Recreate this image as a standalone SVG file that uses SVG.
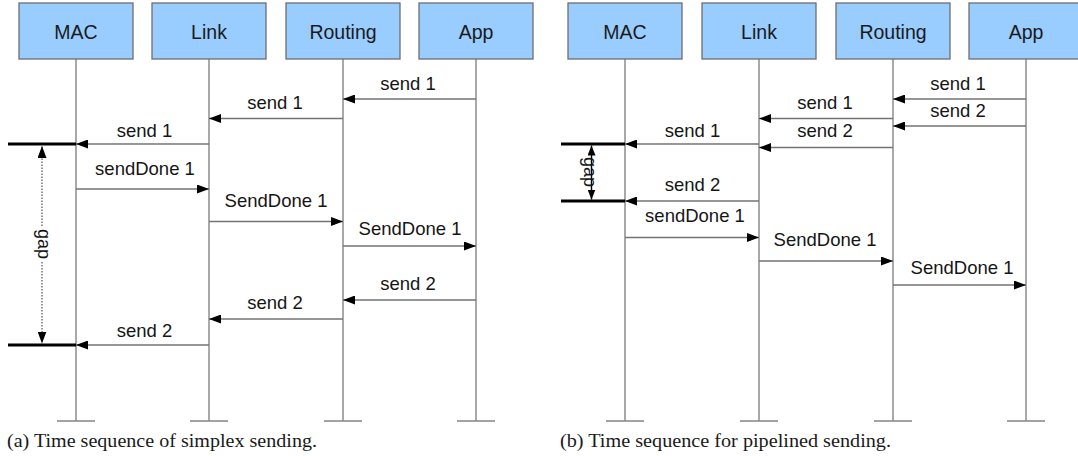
<svg xmlns="http://www.w3.org/2000/svg" width="1078" height="456" viewBox="0 0 1078 456">
  <style>
    .box { fill: #99ccff; stroke: #6e6e6e; stroke-width: 1.3; }
    .boxlabel { font-family: "Liberation Sans", Arial, sans-serif; font-size: 19.5px; fill: #1a1a1a; text-anchor: middle; }
    .life { stroke: #858585; stroke-width: 1.4; fill: none; }
    .msg { stroke: #737373; stroke-width: 1.4; fill: none; marker-end: url(#head); }
    .lbl { font-family: "Liberation Sans", Arial, sans-serif; font-size: 18.5px; fill: #151515; text-anchor: middle; }
    .bar { stroke: #000; stroke-width: 3; fill: none; }
    .gapdot { stroke: #555; stroke-width: 1.2; stroke-dasharray: 1.5 1.5; fill: none; marker-end: url(#head); }
    .gapsolid { stroke: #000; stroke-width: 1.4; fill: none; marker-end: url(#headsm); }
    .gaplbl { font-family: "Liberation Sans", Arial, sans-serif; font-size: 18px; fill: #151515; text-anchor: middle; }
    .caption { font-family: "Liberation Serif", "Times New Roman", serif; font-size: 19.5px; fill: #1a1a1a; }
  </style>
  <defs>
    <marker id="head" viewBox="0 0 12 9" refX="12" refY="4.5" markerWidth="12" markerHeight="9" markerUnits="userSpaceOnUse" orient="auto">
      <path d="M0,0 L12,4.5 L0,9 z" fill="#000"/>
    </marker>
    <marker id="headsm" viewBox="0 0 10 8" refX="10" refY="4" markerWidth="10" markerHeight="8" markerUnits="userSpaceOnUse" orient="auto">
      <path d="M0,0 L10,4 L0,8 z" fill="#000"/>
    </marker>
  </defs>
  <rect width="1078" height="456" fill="#fff"/>

  <!-- (a) simplex sending -->
  <g id="a-lifelines">
    <path class="life" d="M76,59 V421 M57,421 H95"/>
    <path class="life" d="M209,59 V421 M190,421 H228"/>
    <path class="life" d="M343,59 V421 M324,421 H362"/>
    <path class="life" d="M476,59 V421 M457,421 H495"/>
  </g>
  <g id="a-mac"><rect class="box" x="19" y="3" width="114" height="56"/><text class="boxlabel" x="76" y="38.5">MAC</text></g>
  <g id="a-link"><rect class="box" x="152" y="3" width="114" height="56"/><text class="boxlabel" x="209" y="38.5">Link</text></g>
  <g id="a-routing"><rect class="box" x="286" y="3" width="114" height="56"/><text class="boxlabel" x="343" y="38.5">Routing</text></g>
  <g id="a-app"><rect class="box" x="419" y="3" width="114" height="56"/><text class="boxlabel" x="476" y="38.5">App</text></g>

  <g id="a-connectors">
    <path class="msg" d="M476,99 H343"/><text class="lbl" x="408" y="90">send 1</text>
    <path class="msg" d="M343,118.5 H209"/><text class="lbl" x="275" y="109">send 1</text>
    <path class="msg" d="M209,144 H76"/><text class="lbl" x="144.5" y="137">send 1</text>
    <path class="msg" d="M76,189 H209"/><text class="lbl" x="145" y="175">sendDone 1</text>
    <path class="msg" d="M209,221.5 H343"/><text class="lbl" x="276" y="207">SendDone 1</text>
    <path class="msg" d="M343,246 H476"/><text class="lbl" x="410" y="235">SendDone 1</text>
    <path class="msg" d="M476,300 H343"/><text class="lbl" x="408" y="290">send 2</text>
    <path class="msg" d="M343,319 H209"/><text class="lbl" x="275" y="309">send 2</text>
    <path class="msg" d="M209,345 H76"/><text class="lbl" x="144.5" y="337">send 2</text>
  </g>

  <g id="a-gap">
    <path class="bar" d="M8,144 H76 M8,345 H76"/>
    <path class="gapdot" d="M42,226 V146"/>
    <path class="gapdot" d="M42,262 V343.5"/>
    <text class="gaplbl" transform="translate(43,244) rotate(90)" y="5">gap</text>
  </g>

  <text class="caption" x="7" y="447" textLength="310" lengthAdjust="spacingAndGlyphs">(a) Time sequence of simplex sending.</text>

  <!-- (b) pipelined sending -->
  <g id="b-lifelines">
    <path class="life" d="M625,59 V421 M606,421 H644"/>
    <path class="life" d="M759,59 V421 M740,421 H778"/>
    <path class="life" d="M893,59 V421 M874,421 H912"/>
    <path class="life" d="M1026,59 V421 M1007,421 H1045"/>
  </g>
  <g id="b-mac"><rect class="box" x="568" y="3" width="114" height="56"/><text class="boxlabel" x="625" y="38.5">MAC</text></g>
  <g id="b-link"><rect class="box" x="702" y="3" width="114" height="56"/><text class="boxlabel" x="759" y="38.5">Link</text></g>
  <g id="b-routing"><rect class="box" x="836" y="3" width="114" height="56"/><text class="boxlabel" x="893" y="38.5">Routing</text></g>
  <g id="b-app"><rect class="box" x="969" y="3" width="114" height="56"/><text class="boxlabel" x="1026" y="38.5">App</text></g>

  <g id="b-connectors">
    <path class="msg" d="M1026,99 H893"/><text class="lbl" x="958" y="90">send 1</text>
    <path class="msg" d="M1026,126 H893"/><text class="lbl" x="958" y="117">send 2</text>
    <path class="msg" d="M893,118.5 H759"/><text class="lbl" x="825" y="109">send 1</text>
    <path class="msg" d="M893,147.5 H759"/><text class="lbl" x="825" y="137">send 2</text>
    <path class="msg" d="M759,144 H625"/><text class="lbl" x="692.5" y="137">send 1</text>
    <path class="msg" d="M759,201 H625"/><text class="lbl" x="692.5" y="191">send 2</text>
    <path class="msg" d="M625,237.5 H759"/><text class="lbl" x="695" y="222">sendDone 1</text>
    <path class="msg" d="M759,261 H893"/><text class="lbl" x="825" y="246">SendDone 1</text>
    <path class="msg" d="M893,285 H1026"/><text class="lbl" x="962" y="274">SendDone 1</text>
  </g>

  <g id="b-gap">
    <path class="bar" d="M561,144 H625 M561,201 H625"/>
    <path class="gapsolid" d="M591.5,172 V145.5"/>
    <path class="gapsolid" d="M591.5,172 V199.5"/>
    <text class="gaplbl" transform="translate(589,172) rotate(90)" y="5">gap</text>
  </g>

  <text class="caption" x="560" y="447" textLength="331" lengthAdjust="spacingAndGlyphs">(b) Time sequence for pipelined sending.</text>
</svg>
